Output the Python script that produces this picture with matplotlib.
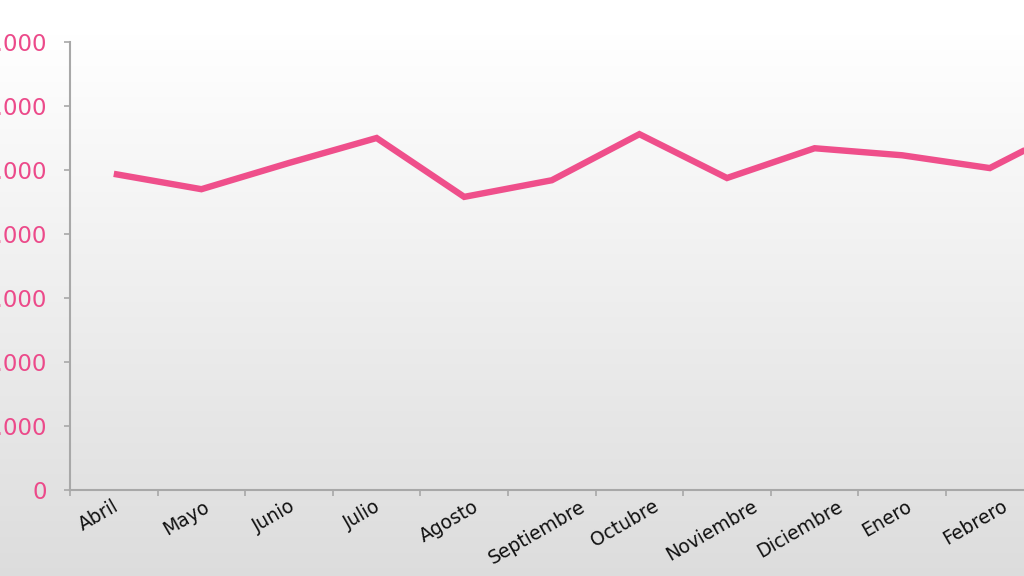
###### LIBRARIES
import matplotlib
matplotlib.use("Agg")
import matplotlib.pyplot as plt
import matplotlib.transforms as mtransforms
import numpy as np


###### DATA
months = ["Abril", "Mayo", "Junio", "Julio", "Agosto", "Septiembre", "Octubre",
          "Noviembre", "Diciembre", "Enero", "Febrero", "Marzo"]
values = [4940, 4700, 5110, 5500, 4580, 4840, 5560, 4875, 5340, 5230, 5030, 5730]
y_ticks = [0, 1000, 2000, 3000, 4000, 5000, 6000, 7000]
y_tick_labels = ["0", "1.000", "2.000", "3.000", "4.000", "5.000", "6.000", "7.000"]

PINK = "#ef4f8b"
LABEL_PINK = "#ec4a8a"
AXIS_GREY = "#a8a8a8"


###### FIGURE
fig = plt.figure(figsize=(10.24, 5.76), dpi=100)

# background gradient (white at top -> light grey at bottom)
bg = fig.add_axes([0, 0, 1, 1], zorder=0)
grad = np.concatenate([np.ones(15), np.linspace(1.0, 0.865, 241)]).reshape(-1, 1)
bg.imshow(np.dstack([grad, grad, grad]), aspect="auto", extent=[0, 1, 0, 1])
bg.set_axis_off()

# plot area runs past the right edge (the original picture is cropped)
W, H = 1024, 576
left_px, top_px, bottom_px, step_px = 70, 42, 490, 87.6
ax = fig.add_axes([left_px / W, (H - bottom_px) / H,
                   step_px * len(months) / W, (bottom_px - top_px) / H], zorder=1)
ax.patch.set_alpha(0)

x = np.arange(len(months))
ax.plot(x, values, color=PINK, lw=4.6, solid_joinstyle="miter", solid_capstyle="butt")

ax.set_xlim(-0.5, len(months) - 0.5)
ax.set_ylim(0, 7000)

# y axis
ax.set_yticks(y_ticks)
ax.set_yticklabels(y_tick_labels, color=LABEL_PINK, fontsize=16.5)
ax.tick_params(axis="y", length=4, width=1.2, color=AXIS_GREY, pad=12.5)

# x axis: tick marks between categories, labels at the centres
ax.set_xticks(np.arange(len(months) + 1) - 0.5)
ax.set_xticklabels([])
ax.tick_params(axis="x", length=4, width=1.2, color=AXIS_GREY, direction="out")
ax.set_xticks(x, minor=True)
ax.tick_params(axis="x", which="minor", length=0, pad=5)
offset = mtransforms.ScaledTranslation(-15 / 100, 0, fig.dpi_scale_trans)
ax.set_xticklabels(months, minor=True, rotation=30, ha="center", va="top",
                   fontsize=13.5, color="#111111")
for lbl in ax.get_xticklabels(minor=True):
    lbl.set_transform(lbl.get_transform() + offset)

for side in ["top", "right"]:
    ax.spines[side].set_visible(False)
for side in ["left", "bottom"]:
    ax.spines[side].set_color(AXIS_GREY)
    ax.spines[side].set_linewidth(1.5)

fig.savefig("out.png", dpi=100)
